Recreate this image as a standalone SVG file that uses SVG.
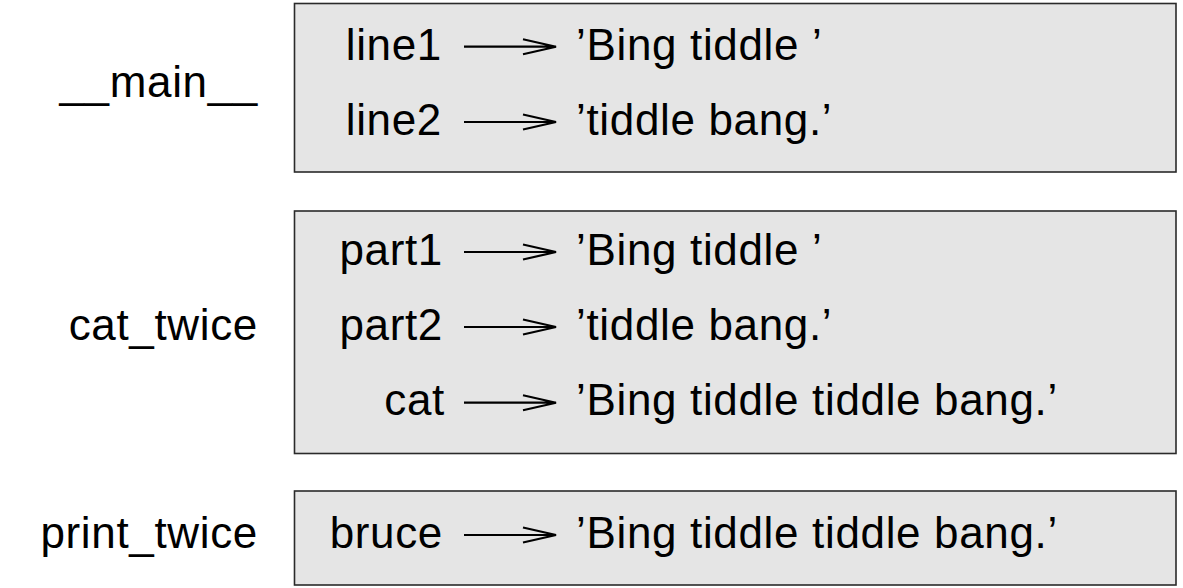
<svg xmlns="http://www.w3.org/2000/svg" width="1183" height="588" viewBox="0 0 1183 588">
<style>
.frame{fill:#e5e5e5;stroke:#2a2a2a;stroke-width:1.6}
text{font-family:"Liberation Sans",Arial,sans-serif;font-size:44px;letter-spacing:0.66px;fill:#000}
.lab{text-anchor:end}
.var{text-anchor:end}
.arr{fill:none;stroke:#000;stroke-width:2.2}
</style>
<rect width="1183" height="588" fill="#fff"/>
<g id="main">
<rect class="frame" x="294.5" y="3.5" width="881.5" height="168.5"/>
<text class="lab" x="258" y="97">__main__</text>
<text class="var" x="442" y="60">line1</text>
<text x="576" y="60">’Bing tiddle ’</text>
<text class="var" x="442" y="135">line2</text>
<text x="576" y="135">’tiddle bang.’</text>
</g>
<g id="cat_twice">
<rect class="frame" x="294.5" y="211" width="881.5" height="242.5"/>
<text class="lab" x="258" y="340">cat_twice</text>
<text class="var" x="443" y="265">part1</text>
<text x="576" y="265">’Bing tiddle ’</text>
<text class="var" x="443" y="340">part2</text>
<text x="576" y="340">’tiddle bang.’</text>
<text class="var" x="445" y="415">cat</text>
<text x="576" y="415">’Bing tiddle tiddle bang.’</text>
</g>
<g id="print_twice">
<rect class="frame" x="294.5" y="491" width="881.5" height="94"/>
<text class="lab" x="258" y="548">print_twice</text>
<text class="var" x="443" y="548">bruce</text>
<text x="576" y="548">’Bing tiddle tiddle bang.’</text>
</g>
<g id="connectors">
<path class="arr" d="M464 46.7H556M523 39.2L556 46.7L523 54.2"/>
<path class="arr" d="M464 122H556M523 114.5L556 122L523 129.5"/>
<path class="arr" d="M464 252H556M523 244.5L556 252L523 259.5"/>
<path class="arr" d="M464 327H556M523 319.5L556 327L523 334.5"/>
<path class="arr" d="M464 402.7H556M523 395.2L556 402.7L523 410.2"/>
<path class="arr" d="M464 535H556M523 527.5L556 535L523 542.5"/>
</g>
</svg>
